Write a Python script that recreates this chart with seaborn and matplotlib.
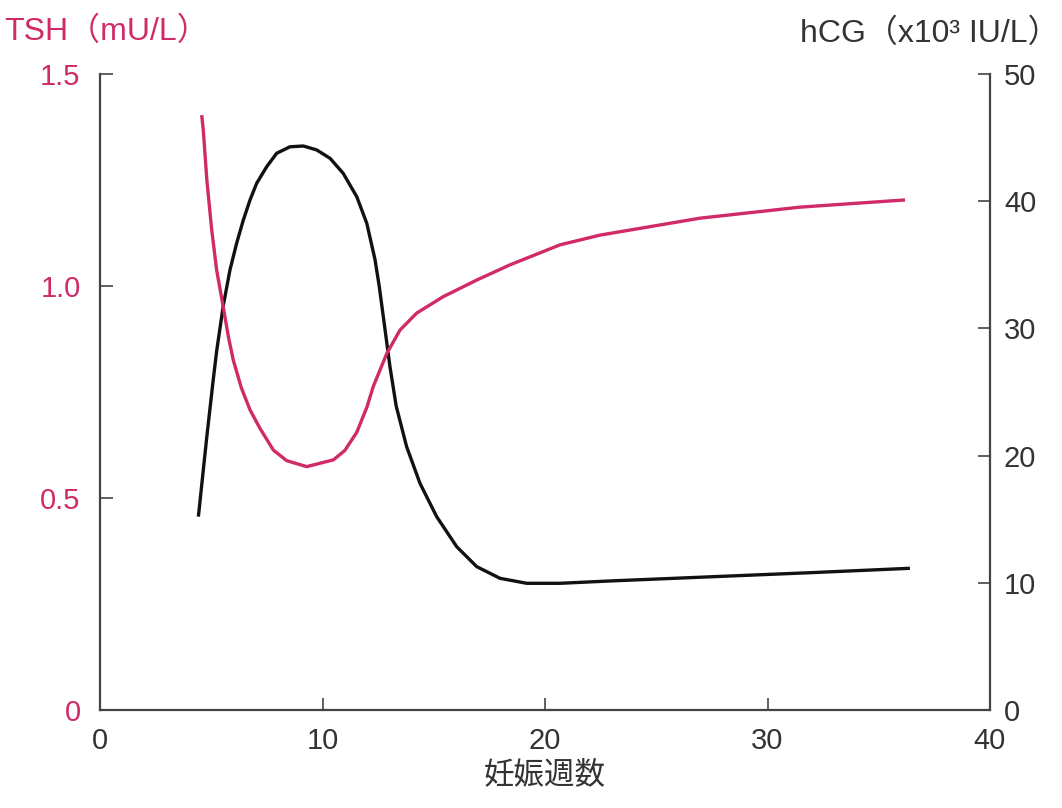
import numpy as np
import pandas as pd
import matplotlib
matplotlib.use("Agg")
import matplotlib.pyplot as plt
import seaborn as sns

# values
tsh_week = [4.57, 4.64, 4.80, 5.02, 5.24, 5.54, 5.77, 5.99, 6.35, 6.74, 7.19, 7.79, 8.39,
            9.29, 10.49, 11.0, 11.54, 12.0, 12.28, 12.89, 13.48, 14.23, 15.43, 16.93,
            18.43, 20.67, 22.47, 26.97, 31.46, 36.18]
tsh_val = [1.403, 1.368, 1.250, 1.132, 1.038, 0.950, 0.880, 0.825, 0.760, 0.708, 0.664,
           0.613, 0.588, 0.574, 0.590, 0.612, 0.655, 0.715, 0.763, 0.841, 0.896, 0.936,
           0.975, 1.014, 1.050, 1.097, 1.120, 1.160, 1.186, 1.203]

hcg_week = [4.42, 4.80, 5.09, 5.24, 5.54, 5.84, 6.14, 6.44, 6.74, 7.04, 7.49, 7.94, 8.54,
            9.14, 9.74, 10.34, 10.93, 11.54, 11.99, 12.36, 12.55, 12.81, 13.03, 13.31,
            13.78, 14.38, 15.13, 16.03, 16.93, 17.98, 19.18, 20.67, 23.0, 27.56, 32.0, 36.40]
hcg_val = [15.2, 21.5, 26.0, 28.2, 31.8, 34.6, 36.7, 38.52, 40.09, 41.41, 42.71, 43.77,
           44.28, 44.34, 44.03, 43.37, 42.19, 40.35, 38.26, 35.4, 33.3, 29.9, 27.0, 23.9,
           20.70, 17.82, 15.20, 12.84, 11.27, 10.35, 9.96, 9.96, 10.15, 10.48, 10.8, 11.14]

x_ticks = [0, 10, 20, 30, 40]
tsh_ticks = [0, 0.5, 1.0, 1.5]
tsh_ticklabels = ["0", "0.5", "1.0", "1.5"]
hcg_ticks = [0, 10, 20, 30, 40, 50]

pink = "#d02a68"
grey = "#444444"

sns.set_theme(style="ticks")
plt.rcParams['font.family'] = ['Liberation Sans', 'Noto Sans CJK JP', 'DejaVu Sans']

tsh = pd.DataFrame({"week": tsh_week, "tsh": tsh_val})
hcg = pd.DataFrame({"week": hcg_week, "hcg": hcg_val})

fig = plt.figure(figsize=(10.62, 8.08), dpi=100)
ax = fig.add_axes([0.0942, 0.1213, 0.838, 0.7871])
ax2 = ax.twinx()

sns.lineplot(data=hcg, x="week", y="hcg", ax=ax2, color="#111111", lw=2.4, sort=False)
sns.lineplot(data=tsh, x="week", y="tsh", ax=ax, color=pink, lw=2.4, sort=False)
ax.set_zorder(ax2.get_zorder() + 1)
ax.patch.set_visible(False)
for a in (ax, ax2):
    for line in a.get_lines():
        line.set_solid_joinstyle("round")
        line.set_solid_capstyle("butt")

ax.set_xlim(0, 40)
ax.set_ylim(0, 1.5)
ax2.set_ylim(0, 50)

ax.set_xticks(x_ticks)
ax.set_xticklabels([str(t) for t in x_ticks], fontsize=21, color="#333333")
ax.set_yticks(tsh_ticks)
ax.set_yticklabels(tsh_ticklabels, fontsize=21, color=pink)
ax2.set_yticks(hcg_ticks)
ax2.set_yticklabels([str(t) for t in hcg_ticks], fontsize=21, color="#333333")

ax.tick_params(axis="x", direction="in", length=9, width=1.2, color=grey, pad=12)
ax.tick_params(axis="y", direction="in", length=9, width=1.2, color=grey, pad=14)
ax2.tick_params(axis="y", direction="in", length=9, width=1.2, color=grey, pad=10)

for a in (ax, ax2):
    a.spines["top"].set_visible(False)
    for s in ("left", "bottom", "right"):
        a.spines[s].set_color(grey)
        a.spines[s].set_linewidth(1.6)
ax.spines["right"].set_visible(False)
ax2.spines["left"].set_visible(False)
ax2.spines["bottom"].set_visible(False)

ax.set_xlabel("妊娠週数", fontsize=22, color="#333333", labelpad=4)
ax.set_ylabel("")
ax2.set_ylabel("")

fig.text(0.004, 1 - 40 / 808, "TSH（mU/L）", fontsize=23, color=pink, ha="left", va="baseline")
fig.text(0.998, 1 - 42 / 808, "hCG（x10³ IU/L）", fontsize=23, color="#333333",
         ha="right", va="baseline")

fig.savefig("out.png", dpi=100, facecolor="white")
